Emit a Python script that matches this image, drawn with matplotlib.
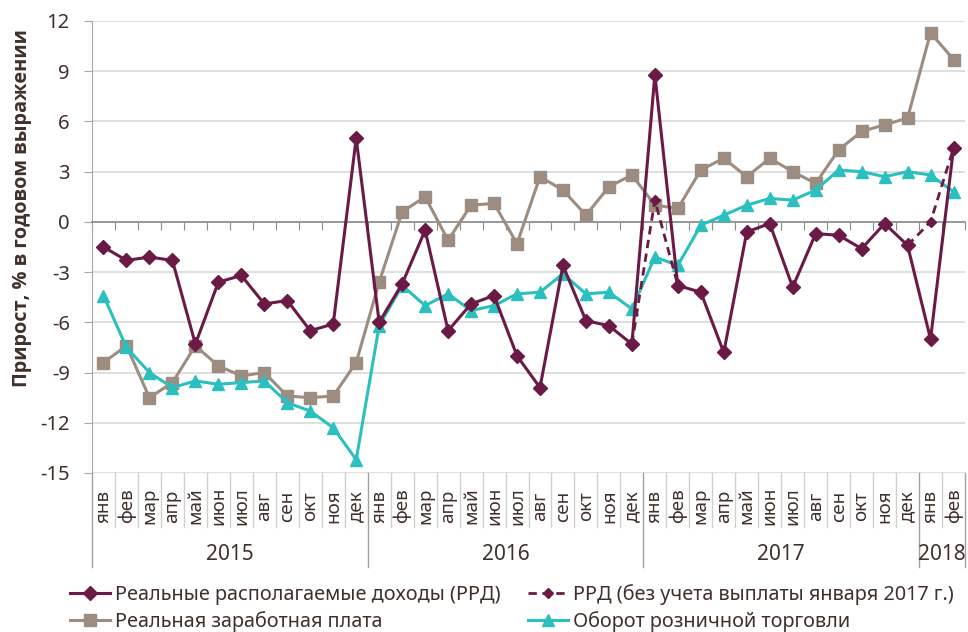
import numpy as np
import matplotlib.pyplot as plt
import matplotlib.transforms as mtransforms

plt.rcParams['font.family'] = ['Noto Sans', 'DejaVu Sans']
plt.rcParams['axes.unicode_minus'] = False

# подписи по оси X
months = ['янв', 'фев', 'мар', 'апр', 'май', 'июн', 'июл', 'авг', 'сен', 'окт', 'ноя', 'дек']
month_labels = months * 3 + months[:2]
years = ['2015', '2016', '2017', '2018']
year_sizes = [12, 12, 12, 2]

# реальные располагаемые доходы (РРД)
rrd = [-1.5, -2.3, -2.1, -2.3, -7.3, -3.6, -3.2, -4.9, -4.7, -6.5, -6.1, 5.0,
       -6.0, -3.7, -0.5, -6.5, -4.9, -4.4, -8.0, -9.9, -2.6, -5.9, -6.2, -7.3,
       8.8, -3.8, -4.2, -7.8, -0.6, -0.1, -3.9, -0.7, -0.8, -1.6, -0.1, -1.4,
       -7.0, 4.4]
# РРД без учета выплаты января 2017 (только отличающиеся участки)
rrd_excl = [None] * 23 + [-7.3, 1.3, -3.8] + [None] * 9 + [-1.4, 0.0, 4.4]
# реальная заработная плата
wage = [-8.4, -7.4, -10.5, -9.6, -7.4, -8.6, -9.2, -9.0, -10.4, -10.5, -10.4, -8.4,
        -3.6, 0.6, 1.5, -1.1, 1.0, 1.1, -1.3, 2.7, 1.9, 0.4, 2.1, 2.8,
        1.0, 0.8, 3.1, 3.8, 2.7, 3.8, 3.0, 2.3, 4.3, 5.4, 5.8, 6.2,
        11.3, 9.7]
# оборот розничной торговли
retail = [-4.4, -7.5, -9.0, -9.9, -9.5, -9.7, -9.6, -9.5, -10.8, -11.3, -12.3, -14.2,
          -6.2, -3.8, -5.0, -4.3, -5.3, -5.0, -4.3, -4.2, -3.1, -4.3, -4.2, -5.2,
          -2.1, -2.6, -0.2, 0.4, 1.0, 1.4, 1.3, 1.9, 3.1, 3.0, 2.7, 3.0,
          2.8, 1.8]

purple = '#6b1a45'
grey = '#9d8d80'
teal = '#2bbfbf'
txt = '#3f302c'

x = np.arange(len(month_labels))
rrd_excl = np.array([np.nan if v is None else v for v in rrd_excl])

fig = plt.figure(figsize=(9.68, 6.32), dpi=100)
ax = fig.add_axes([92/968, 1 - 473/632, 873/968, 452/632])

l2, = ax.plot(x, wage, color=grey, lw=2.2, marker='s', ms=8, zorder=3)
l4, = ax.plot(x, retail, color=teal, lw=2.2, marker='^', ms=9, zorder=4)
l3, = ax.plot(x, rrd_excl, color=purple, lw=2, ls=(0, (3, 2)), marker='D', ms=5.5, zorder=5)
l1, = ax.plot(x, rrd, color=purple, lw=2.2, marker='D', ms=7, zorder=6)

ax.set_xlim(-0.5, len(x) - 0.5)
ax.set_ylim(-15, 12)
ax.set_yticks(np.arange(-15, 13, 3))
ax.yaxis.grid(True, color='#d9d9d9', lw=1.2)
ax.set_axisbelow(True)

ax.spines['top'].set_visible(False)
ax.spines['right'].set_visible(False)
ax.spines['left'].set_color('#a6a6a6')
ax.spines['bottom'].set_position(('data', 0))
ax.spines['bottom'].set_color('#8c8c8c')
ax.spines['bottom'].set_linewidth(1.2)

ax.set_xticks(np.arange(-0.5, len(x), 1))
ax.tick_params(axis='x', direction='out', length=6, color='#8c8c8c', labelbottom=False)
ax.tick_params(axis='y', direction='out', length=6, color='#a6a6a6', labelsize=14.5,
               labelcolor=txt, pad=10)

# подписи категорий снизу
trans = mtransforms.blended_transform_factory(ax.transData, ax.transAxes)
for i, m in enumerate(month_labels):
    ax.text(i, -0.073, m, rotation=90, ha='center', va='center', fontsize=13.5,
            color=txt, transform=trans)

year_edges = np.concatenate([[0], np.cumsum(year_sizes)]) - 0.5
for b in np.arange(-0.5, len(x), 1):
    if b in year_edges:
        ax.plot([b, b], [0, -0.208], color='#a0a0a0', lw=1, transform=trans, clip_on=False)
    else:
        ax.plot([b, b], [0, -0.1195], color='#d0d0d0', lw=1, transform=trans, clip_on=False)

for k, yr in enumerate(years):
    ax.text((year_edges[k] + year_edges[k + 1]) / 2, -0.18, yr, ha='center', va='center',
            fontsize=15, color=txt, transform=trans)

fig.text(22/968, 1 - 208/632, 'Прирост, % в годовом выражении', rotation=90,
         ha='center', va='center', fontsize=14.3, fontweight='bold', color=txt,
         family=['Open Sans', 'DejaVu Sans'])

fig.legend([l1, l2, l3, l4],
           ['Реальные располагаемые доходы (РРД)', 'Реальная заработная плата',
            'РРД (без учета выплаты января 2017 г.)', 'Оборот розничной торговли'],
           ncol=2, loc='upper left', bbox_to_anchor=(60/968, 1 - 574/632), frameon=False,
           fontsize=14.3, labelcolor=txt, handlelength=2.0, handletextpad=0.25,
           columnspacing=1.4, borderpad=0, labelspacing=0.3)

fig.savefig('out.png', dpi=100)
